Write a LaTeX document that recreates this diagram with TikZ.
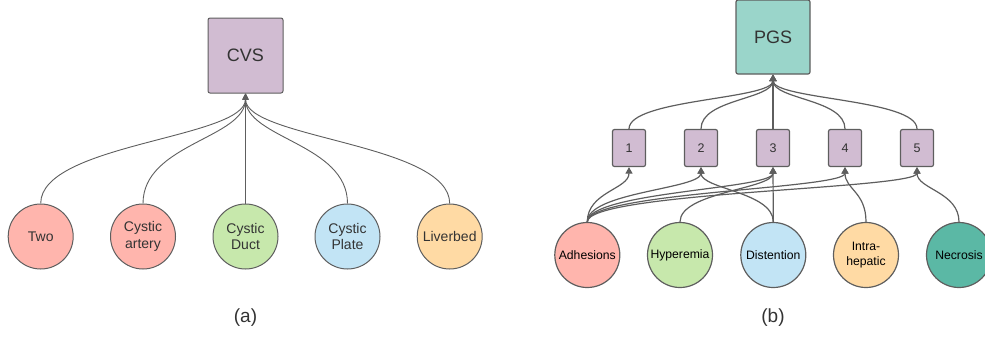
\documentclass[tikz,border=0pt]{standalone}
\usepackage{fontspec}
\setmainfont{Liberation Sans}
\usetikzlibrary{arrows.meta}
\definecolor{edgec}{HTML}{5E5E5E}
\definecolor{txtc}{HTML}{333333}
\definecolor{pinkc}{HTML}{FFB5AD}
\definecolor{greenc}{HTML}{C7E8AC}
\definecolor{bluec}{HTML}{C2E4F5}
\definecolor{orangec}{HTML}{FFDAA4}
\definecolor{purplec}{HTML}{D1BCD2}
\definecolor{tealc}{HTML}{9AD5CA}
\definecolor{darktealc}{HTML}{5BB8A5}
\tikzset{
  circ/.style={circle, draw=edgec, line width=1bp, minimum size=65bp, inner sep=0pt, align=center, text=txtc, font=\fontsize{14bp}{16.7bp}\selectfont},
  circb/.style={circ, font=\fontsize{12.2bp}{14.7bp}\selectfont, text=black},
  bigbox/.style={draw=edgec, line width=1bp, rounded corners=2bp, minimum width=75bp, minimum height=75bp, inner sep=0pt, text=txtc, font=\fontsize{18bp}{20bp}\selectfont},
  sbox/.style={draw=edgec, line width=1.2bp, rounded corners=2bp, fill=purplec, minimum width=33bp, minimum height=37bp, inner sep=0pt, text=txtc, font=\fontsize{12.5bp}{14bp}\selectfont},
  conn/.style={draw=edgec, line width=0.9bp, -{Triangle[width=6bp,length=6bp]}},
  connb/.style={conn, line width=1.2bp, -{Triangle[width=7bp,length=6.5bp]}},
  captxt/.style={text=txtc, font=\fontsize{19bp}{22bp}\selectfont}
}
\begin{document}
\begin{tikzpicture}[x=1bp,y=-1bp]
\clip (0,0) rectangle (985,336);
% panel (a)
\node[bigbox, fill=purplec] (cvs) at (245.5,55.5) {CVS};
\node[circ, fill=pinkc] (two) at (40.7,236.5) {Two};
\node[circ, fill=pinkc] (art) at (143,236.5) {Cystic\\artery};
\node[circ, fill=greenc] (duct) at (245.5,236.5) {Cystic\\Duct};
\node[circ, fill=bluec] (plate) at (347.5,236.5) {Cystic\\Plate};
\node[circ, fill=orangec] (liver) at (449.7,236.5) {Liverbed};
\draw[conn] (two.north) .. controls +(0,-60) and +(0,45) .. (cvs.south);
\draw[conn] (art.north) .. controls +(0,-60) and +(0,45) .. (cvs.south);
\draw[conn] (duct.north) -- (cvs.south);
\draw[conn] (plate.north) .. controls +(0,-60) and +(0,45) .. (cvs.south);
\draw[conn] (liver.north) .. controls +(0,-60) and +(0,45) .. (cvs.south);
\node[captxt] (capa) at (245.5,318) {(a)};
% panel (b)
\node[bigbox, fill=tealc, minimum width=74bp, minimum height=74bp, line width=1.2bp] (pgs) at (773,37) {PGS};
\node[sbox] (b1) at (629,148) {1};
\node[sbox] (b2) at (701,148) {2};
\node[sbox] (b3) at (773,148) {3};
\node[sbox] (b4) at (845,148) {4};
\node[sbox] (b5) at (917,148) {5};
\node[circb, fill=pinkc, line width=1.2bp] (adh) at (587.3,255) {Adhesions};
\node[circb, fill=greenc, line width=1.2bp] (hyp) at (680,255) {Hyperemia};
\node[circb, fill=bluec, line width=1.2bp] (dis) at (773.3,255) {Distention};
\node[circb, fill=orangec, line width=1.2bp] (intra) at (866,255) {Intra-\\hepatic};
\node[circb, fill=darktealc, line width=1.2bp] (nec) at (959,255) {Necrosis};
\foreach \b in {b1,b2,b4,b5}
  \draw[connb] (\b.north) .. controls +(0,-30) and +(0,25) .. (pgs.south);
\draw[connb] (b3.north) -- (pgs.south);
\foreach \b in {b1,b2,b3,b4,b5}
  \draw[connb] (adh.north) .. controls +(0,-30) and +(0,22) .. (\b.south);
\draw[connb] (hyp.north) .. controls +(0,-30) and +(0,22) .. (b3.south);
\draw[connb] (dis.north) .. controls +(0,-30) and +(0,22) .. (b2.south);
\draw[connb] (dis.north) -- (b3.south);
\draw[connb] (intra.north) .. controls +(0,-30) and +(0,22) .. (b4.south);
\draw[connb] (nec.north) .. controls +(0,-30) and +(0,22) .. (b5.south);
\node[captxt] (capb) at (773,318) {(b)};
\end{tikzpicture}
\end{document}
